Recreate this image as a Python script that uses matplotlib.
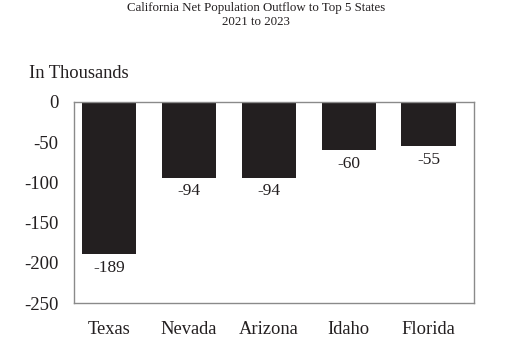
import matplotlib
matplotlib.use("Agg")
import matplotlib.pyplot as plt

states = ["Texas", "Nevada", "Arizona", "Idaho", "Florida"]
outflow = [-189, -94, -94, -60, -55]
yticks = [0, -50, -100, -150, -200, -250]

plt.rcParams["font.family"] = ["Liberation Serif", "DejaVu Serif"]
plt.rcParams["text.color"] = "#231f20"
plt.rcParams["xtick.color"] = "#231f20"
plt.rcParams["ytick.color"] = "#231f20"

fig = plt.figure(figsize=(5.13, 3.43), dpi=100)
W, H = 513, 343
ax = fig.add_axes([74 / W, 1 - 303 / H, 400 / W, 201 / H])

x = range(len(states))
ax.bar(x, outflow, width=0.68, color="#231f20", zorder=2)
ax.set_xlim(-0.44, len(states) - 0.43)
ax.set_ylim(-250, 0)
ax.set_yticks(yticks)
ax.set_yticklabels([str(t) for t in yticks], fontsize=13.5)
ax.set_xticks(list(x))
ax.set_xticklabels(states, fontsize=13.3)
ax.tick_params(axis="y", length=0, pad=11)
ax.tick_params(axis="x", length=0, pad=13)

for s in ax.spines.values():
    s.set_color("#8a8a8a")
    s.set_linewidth(1.0)

for xi, v in zip(x, outflow):
    ax.annotate(str(v), (xi, v), xytext=(0, -4), textcoords="offset points",
                ha="center", va="top", fontsize=12.5)

fig.text(256 / W, 1 - 8 / H, "California Net Population Outflow to Top 5 States",
         ha="center", va="center", fontsize=9.3)
fig.text(256 / W, 1 - 22 / H, "2021 to 2023", ha="center", va="center", fontsize=9.3)
fig.text(29 / W, 1 - 74 / H, "In Thousands", ha="left", va="center", fontsize=13.3)

fig.savefig("out.png", dpi=100)
